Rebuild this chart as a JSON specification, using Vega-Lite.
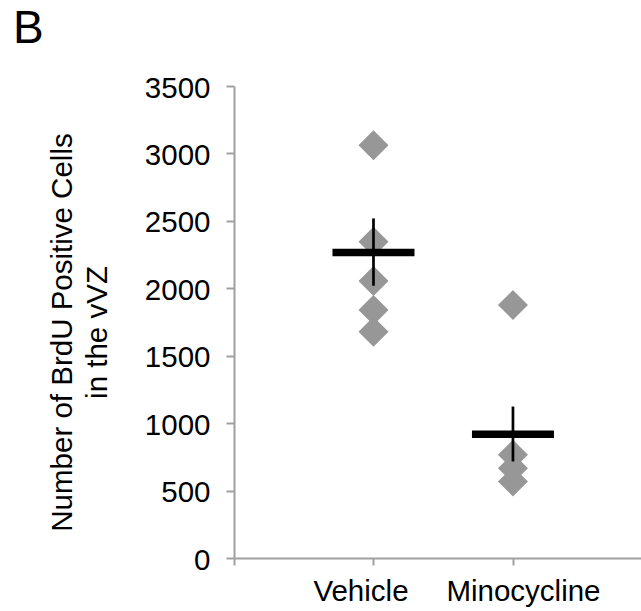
{
  "$schema": "https://vega.github.io/schema/vega-lite/v6.json",
  "autosize": {"type": "none"},
  "width": 407,
  "height": 472,
  "padding": {"left": 234, "top": 86, "right": 0, "bottom": 53},
  "background": "white",
  "config": {
    "view": {"stroke": null},
    "font": "Liberation Sans"
  },
  "title": {
    "text": "B",
    "fontSize": 46,
    "fontWeight": "normal",
    "font": "Liberation Sans",
    "color": "black",
    "anchor": "start",
    "frame": "group",
    "baseline": "alphabetic",
    "dx": -221,
    "dy": 16,
    "offset": 0
  },
  "datasets": {
    "points": [
      {"group": "Vehicle", "idx": 1, "cells": 3061},
      {"group": "Vehicle", "idx": 1, "cells": 2345},
      {"group": "Vehicle", "idx": 1, "cells": 2054},
      {"group": "Vehicle", "idx": 1, "cells": 1839},
      {"group": "Vehicle", "idx": 1, "cells": 1678},
      {"group": "Minocycline", "idx": 2, "cells": 1876},
      {"group": "Minocycline", "idx": 2, "cells": 765},
      {"group": "Minocycline", "idx": 2, "cells": 666},
      {"group": "Minocycline", "idx": 2, "cells": 567}
    ],
    "summary": [
      {"group": "Vehicle", "idx": 1, "mean": 2266, "lo": 2019, "hi": 2518},
      {"group": "Minocycline", "idx": 2, "mean": 918, "lo": 716, "hi": 1123}
    ]
  },
  "encoding": {
    "x": {
      "field": "idx",
      "type": "quantitative",
      "scale": {"domain": [0, 2.918], "nice": false, "zero": false},
      "axis": {
        "title": null,
        "values": [0, 1, 2],
        "labelExpr": "datum.value == 1 ? 'Vehicle' : datum.value == 2 ? 'Minocycline' : ''",
        "labelOffset": {"expr": "datum.value == 1 ? -13 : 10"},
        "labelFontSize": 29.5,
        "labelFont": "Liberation Sans",
        "labelColor": "black",
        "labelPadding": 12,
        "labelBaseline": "top",
        "labelAlign": "center",
        "labelFlush": false,
        "labelOverlap": false,
        "domainColor": "#a0a0a0",
        "domainWidth": 2,
        "tickColor": "#a0a0a0",
        "tickWidth": 2,
        "tickSize": 7,
        "grid": false
      }
    }
  },
  "layer": [
    {
      "data": {"name": "points"},
      "mark": {"type": "point", "shape": "diamond", "filled": true, "size": 900, "color": "#979797", "opacity": 1},
      "encoding": {
        "y": {
          "field": "cells",
          "type": "quantitative",
          "scale": {"domain": [0, 3500], "nice": false},
          "axis": {
            "title": ["Number of BrdU Positive Cells", "in the vVZ"],
            "values": [0, 500, 1000, 1500, 2000, 2500, 3000, 3500],
            "format": "d",
            "labelFontSize": 29.5,
            "labelFont": "Liberation Sans",
            "labelColor": "black",
            "labelPadding": 16,
            "labelOffset": 2,
            "labelBaseline": "middle",
            "labelFlush": false,
            "labelOverlap": false,
            "domainColor": "#a0a0a0",
            "domainWidth": 2,
            "tickColor": "#a0a0a0",
            "tickWidth": 2,
            "tickSize": 8,
            "grid": false,
            "titleFontSize": 29.5,
            "titleFont": "Liberation Sans",
            "titleFontWeight": "normal",
            "titleColor": "black",
            "titleAngle": 270,
            "titleAlign": "center",
            "titleBaseline": "middle",
            "titleLineHeight": 35,
            "titleX": -172,
            "titleY": 246
          }
        }
      }
    },
    {
      "data": {"name": "summary"},
      "mark": {"type": "tick", "orient": "horizontal", "size": 82, "thickness": 7.5, "color": "black", "opacity": 1},
      "encoding": {
        "y": {"field": "mean", "type": "quantitative"}
      }
    },
    {
      "data": {"name": "summary"},
      "mark": {"type": "rule", "strokeWidth": 2.7, "color": "black"},
      "encoding": {
        "y": {"field": "lo", "type": "quantitative"},
        "y2": {"field": "hi"}
      }
    }
  ]
}
